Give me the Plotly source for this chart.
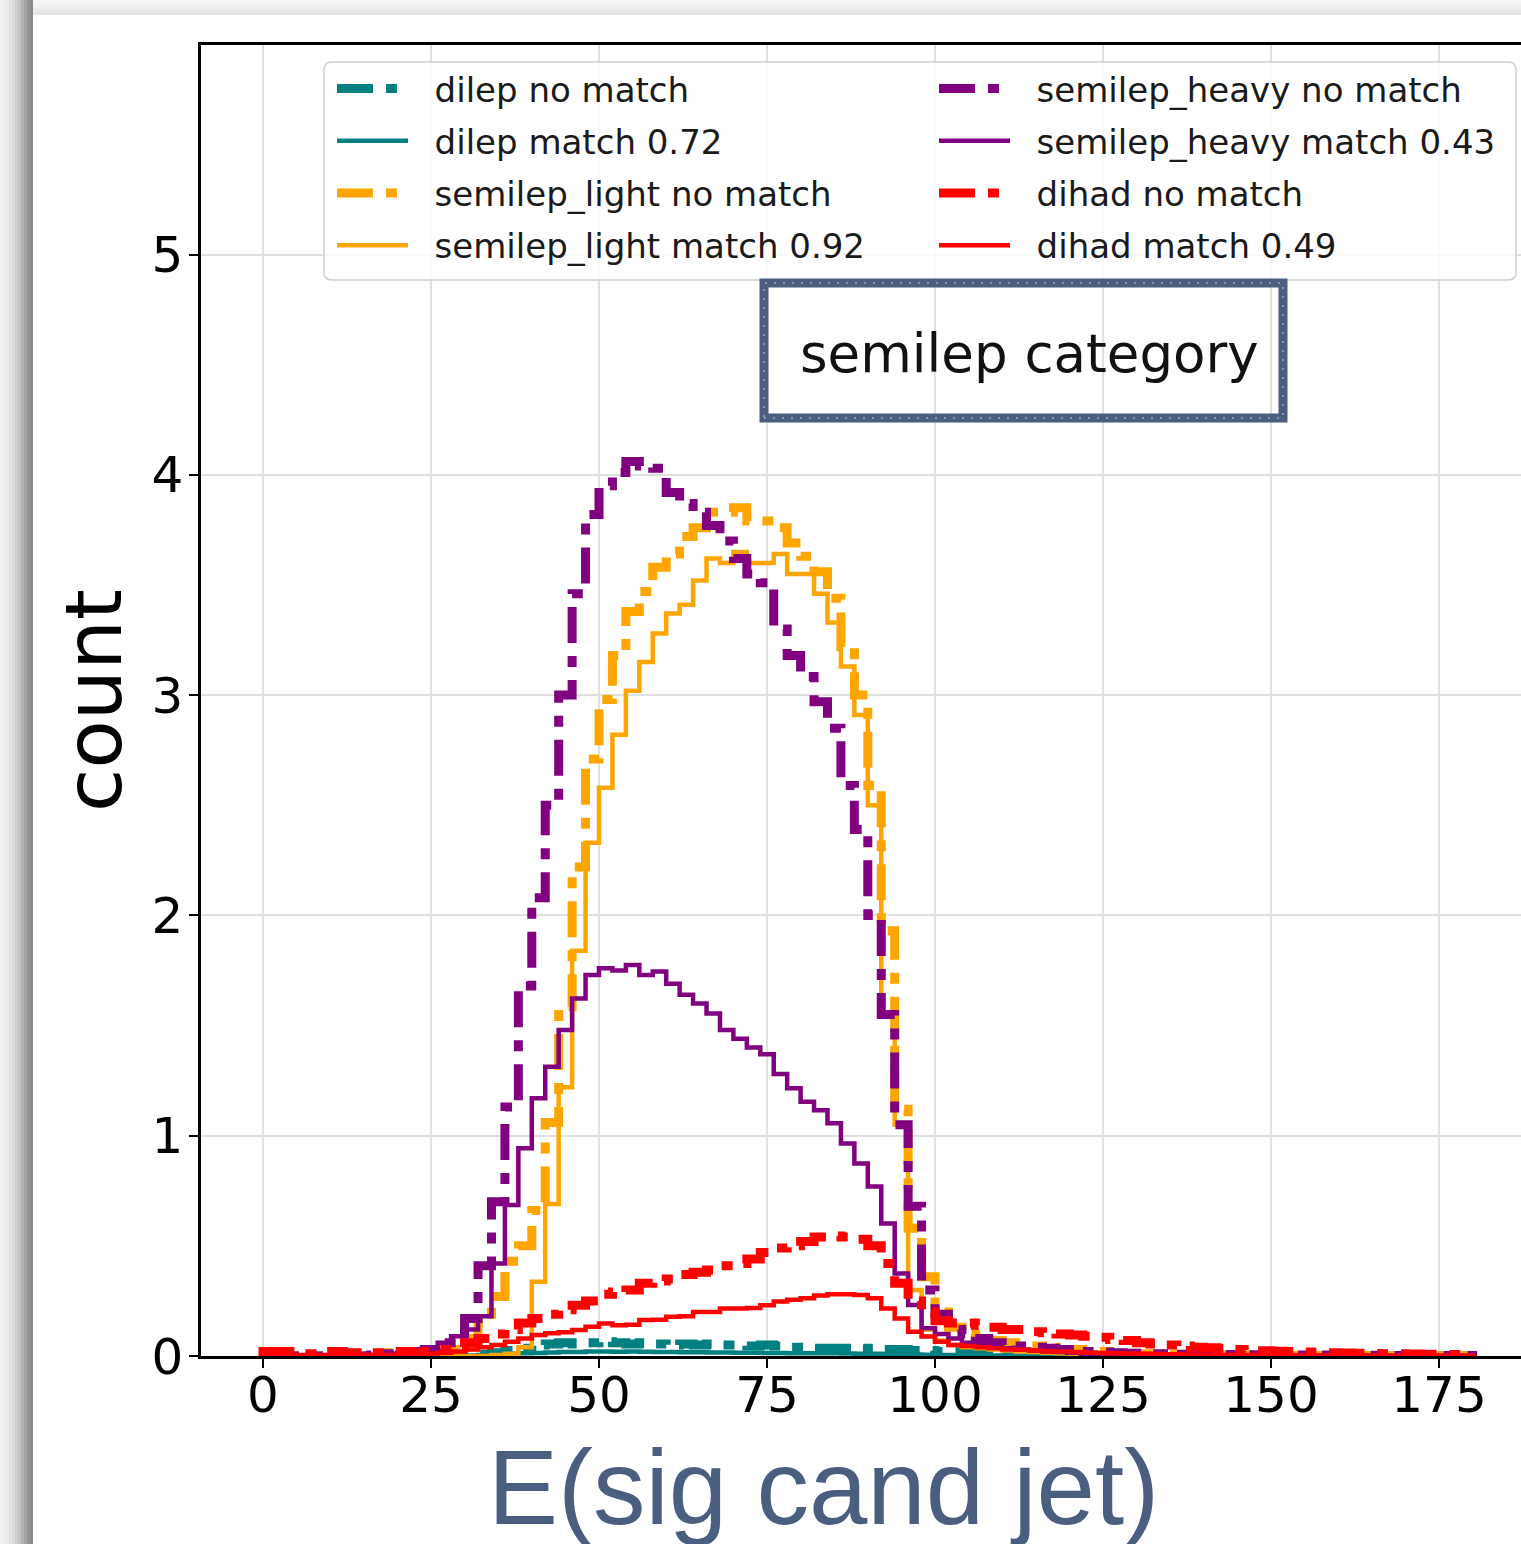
import plotly.graph_objects as go

# ---------------- data (histogram counts, bin width 2, edges 0..180) ----------------
BIN_EDGES = list(range(0, 182, 2))

DILEP_NOMATCH = [
    0, 0, 0, 0, 0, 0, 0, 0, 0, 0,
    0, 0, 0, 0, 0, 0.003, 0.008, 0.015, 0.025, 0.035,
    0.05, 0.055, 0.06, 0.055, 0.06, 0.065, 0.06, 0.055, 0.06, 0.055,
    0.05, 0.055, 0.05, 0.055, 0.05, 0.05, 0.045, 0.05, 0.045, 0.04,
    0.04, 0.035, 0.035, 0.035, 0.03, 0.035, 0.03, 0.03, 0.025, 0.025,
    0.02, 0.02, 0.015, 0.015, 0.01, 0.01, 0.008, 0.006, 0.005, 0.004,
    0.003, 0.003, 0.002, 0.002, 0.001, 0.001, 0.001, 0, 0, 0,
    0, 0, 0, 0, 0, 0, 0, 0, 0, 0,
    0, 0, 0, 0, 0, 0, 0, 0, 0, 0,
]
DILEP_MATCH = [
    0, 0, 0, 0, 0, 0, 0, 0, 0, 0,
    0, 0, 0, 0, 0, 0.002, 0.005, 0.008, 0.01, 0.012,
    0.014, 0.016, 0.018, 0.018, 0.02, 0.02, 0.019, 0.02, 0.019, 0.018,
    0.018, 0.017, 0.017, 0.016, 0.016, 0.015, 0.015, 0.014, 0.014, 0.013,
    0.013, 0.012, 0.012, 0.011, 0.01, 0.01, 0.009, 0.008, 0.007, 0.006,
    0.005, 0.004, 0.003, 0.003, 0.002, 0.002, 0.001, 0.001, 0, 0,
    0, 0, 0, 0, 0, 0, 0, 0, 0, 0,
    0, 0, 0, 0, 0, 0, 0, 0, 0, 0,
    0, 0, 0, 0, 0, 0, 0, 0, 0, 0,
]
SEMILEP_LIGHT_NOMATCH = [
    0, 0, 0, 0, 0, 0, 0, 0, 0.01, 0.015,
    0.015, 0.01, 0.01, 0.015, 0.03, 0.08, 0.15, 0.27, 0.43, 0.5,
    0.66, 1.06, 1.585, 2.22, 2.71, 2.98, 3.18, 3.38, 3.47, 3.58,
    3.64, 3.72, 3.76, 3.83, 3.83, 3.85, 3.79, 3.79, 3.76, 3.69,
    3.63, 3.56, 3.44, 3.22, 3.0, 2.59, 1.93, 1.12, 0.58, 0.36,
    0.2, 0.13, 0.1, 0.09, 0.07, 0.06, 0.05, 0.045, 0.04, 0.03,
    0.03, 0.02, 0.02, 0.015, 0.012, 0.01, 0.009, 0.008, 0.007, 0.006,
    0.005, 0.005, 0.004, 0.004, 0.003, 0.003, 0.003, 0.002, 0.002, 0.002,
    0.002, 0.002, 0.001, 0.001, 0.001, 0.001, 0.001, 0.001, 0.001, 0.001,
]
SEMILEP_LIGHT_MATCH = [
    0, 0, 0, 0, 0, 0, 0, 0, 0, 0,
    0, 0, 0, 0, 0, 0, 0, 0.005, 0.01, 0.04,
    0.337, 0.69, 1.22, 1.84, 2.33, 2.58, 2.82, 3.02, 3.15, 3.28,
    3.37, 3.41, 3.52, 3.62, 3.60, 3.65, 3.60, 3.60, 3.64, 3.55,
    3.55, 3.46, 3.33, 3.13, 2.91, 2.5, 1.55, 1.05, 0.3, 0.12,
    0.07, 0.05, 0.04, 0.035, 0.03, 0.025, 0.02, 0.018, 0.015, 0.012,
    0.01, 0.008, 0.007, 0.006, 0.005, 0.004, 0.003, 0.003, 0.002, 0.002,
    0.001, 0.001, 0.001, 0.001, 0.001, 0, 0, 0, 0, 0,
    0, 0, 0, 0, 0, 0, 0, 0, 0, 0,
]
SEMILEP_HEAVY_NOMATCH = [
    0, 0, 0, 0, 0, 0, 0, 0, 0.005, 0.01,
    0.02, 0.02, 0.03, 0.06, 0.1, 0.17, 0.41, 0.7, 1.13, 1.68,
    2.08, 2.5, 3.0, 3.46, 3.82, 3.95, 4.01, 4.06, 4.04, 4.03,
    3.92, 3.87, 3.83, 3.77, 3.70, 3.62, 3.55, 3.51, 3.30, 3.18,
    3.085, 2.97, 2.85, 2.59, 2.39, 2.0, 1.55, 1.05, 0.68, 0.3,
    0.19, 0.12, 0.1, 0.08, 0.06, 0.05, 0.045, 0.04, 0.035, 0.03,
    0.025, 0.02, 0.018, 0.015, 0.012, 0.01, 0.01, 0.009, 0.008, 0.008,
    0.007, 0.007, 0.006, 0.006, 0.005, 0.005, 0.005, 0.004, 0.004, 0.004,
    0.003, 0.003, 0.003, 0.003, 0.002, 0.002, 0.002, 0.002, 0.002, 0.002,
]
SEMILEP_HEAVY_MATCH = [
    0, 0, 0, 0, 0, 0, 0, 0, 0.005, 0.01,
    0.015, 0.02, 0.025, 0.06, 0.09, 0.12, 0.18, 0.42, 0.685, 0.943,
    1.17, 1.313, 1.48, 1.623, 1.73, 1.76, 1.75, 1.775, 1.73, 1.745,
    1.69, 1.64, 1.60, 1.555, 1.48, 1.44, 1.40, 1.37, 1.28, 1.215,
    1.154, 1.116, 1.056, 0.965, 0.874, 0.769, 0.602, 0.375, 0.231, 0.126,
    0.1, 0.08, 0.06, 0.05, 0.04, 0.035, 0.03, 0.025, 0.02, 0.018,
    0.015, 0.012, 0.01, 0.009, 0.008, 0.007, 0.006, 0.005, 0.005, 0.004,
    0.004, 0.003, 0.003, 0.003, 0.002, 0.002, 0.002, 0.002, 0.001, 0.001,
    0.001, 0.001, 0.001, 0.001, 0.001, 0.001, 0.001, 0.001, 0.001, 0.001,
]
DIHAD_NOMATCH = [
    0.02, 0.02, 0.015, 0.01, 0.02, 0.02, 0.015, 0.01, 0.015, 0.02,
    0.02, 0.015, 0.02, 0.03, 0.04, 0.06, 0.08, 0.1, 0.12, 0.15,
    0.17, 0.19, 0.21, 0.23, 0.25, 0.28, 0.29, 0.3, 0.33, 0.34,
    0.35, 0.37, 0.38, 0.39, 0.41, 0.42, 0.44, 0.47, 0.49, 0.50,
    0.52, 0.54, 0.545, 0.54, 0.53, 0.50, 0.42, 0.33, 0.25, 0.2,
    0.16, 0.15, 0.15, 0.14, 0.13, 0.12, 0.12, 0.11, 0.105, 0.1,
    0.095, 0.09, 0.085, 0.075, 0.07, 0.06, 0.055, 0.05, 0.045, 0.04,
    0.037, 0.034, 0.03, 0.027, 0.024, 0.022, 0.02, 0.018, 0.016, 0.015,
    0.014, 0.012, 0.011, 0.01, 0.01, 0.009, 0.008, 0.008, 0.007, 0.007,
]
DIHAD_MATCH = [
    0.005, 0.005, 0.005, 0.005, 0.005, 0.005, 0.005, 0.005, 0.005, 0.005,
    0.005, 0.008, 0.01, 0.015, 0.02, 0.03, 0.04, 0.05, 0.065, 0.08,
    0.095, 0.103, 0.108, 0.118, 0.133, 0.148, 0.14, 0.142, 0.163, 0.165,
    0.178, 0.18, 0.2, 0.2, 0.216, 0.216, 0.218, 0.23, 0.247, 0.255,
    0.262, 0.275, 0.28, 0.28, 0.277, 0.262, 0.216, 0.17, 0.11, 0.088,
    0.065, 0.05, 0.045, 0.04, 0.035, 0.03, 0.028, 0.025, 0.022, 0.02,
    0.018, 0.016, 0.014, 0.012, 0.011, 0.01, 0.009, 0.008, 0.007, 0.006,
    0.005, 0.005, 0.004, 0.004, 0.003, 0.003, 0.003, 0.002, 0.002, 0.002,
    0.002, 0.002, 0.001, 0.001, 0.001, 0.001, 0.001, 0.001, 0.001, 0.001,
]

SERIES_NAMES = [
    "dilep no match", "dilep match 0.72",
    "semilep_light no match", "semilep_light match 0.92",
    "semilep_heavy no match", "semilep_heavy match 0.43",
    "dihad no match", "dihad match 0.49",
]
SERIES_VALUES = [
    DILEP_NOMATCH, DILEP_MATCH,
    SEMILEP_LIGHT_NOMATCH, SEMILEP_LIGHT_MATCH,
    SEMILEP_HEAVY_NOMATCH, SEMILEP_HEAVY_MATCH,
    DIHAD_NOMATCH, DIHAD_MATCH,
]
SERIES_COLORS = ["#008080", "#008080", "#FFA500", "#FFA500",
                 "#800080", "#800080", "#FF0000", "#FF0000"]
SERIES_DASHED = [True, False, True, False, True, False, True, False]

X_TICKS = [0, 25, 50, 75, 100, 125, 150, 175]
Y_TICKS = [0, 1, 2, 3, 4, 5]

# ---------------- geometry ----------------
W, H = 1521, 1544
ML, MR, MT, MB = 201, 0, 45, 188
PW = W - ML - MR
PH = H - MT - MB
X_RANGE = [-9.226, 187.2]
Y_RANGE = [0, 5.951]
SLATE = "#4a5f80"
NBSP = "\u00a0"


def pxx(px):
    return (px - ML) / PW


def pxy(py):
    return (H - MB - py) / PH


def step_xy(counts):
    xs = [BIN_EDGES[0]] + BIN_EDGES[:-1] + [BIN_EDGES[-1], BIN_EDGES[-1]]
    ys = [0] + list(counts) + [counts[-1], 0]
    return xs, ys


fig = go.Figure()
for i, (name, vals, col, dashed) in enumerate(
        zip(SERIES_NAMES, SERIES_VALUES, SERIES_COLORS, SERIES_DASHED)):
    xs, ys = step_xy(vals)
    fig.add_trace(go.Scatter(
        x=xs, y=ys, mode="lines", name=NBSP * 2 + name,
        line=dict(color=col, width=9 if dashed else 4.5, shape="hv",
                  dash="36px,13px,11px,13px" if dashed else "solid"),
        legend="legend" if i < 4 else "legend2",
        legendgroup=f"g{i}",
        hoverinfo="skip",
    ))

shapes = []
# drop shadow of the screenshot card (left and top)
left_cols = ["#f3f3f3", "#efefef", "#eaeaea", "#e3e3e3", "#dadada", "#cfcfcf",
             "#c2c2c2", "#b3b3b3", "#a3a3a3", "#959595", "#8a8a8a"]
for k, c in enumerate(left_cols):
    shapes.append(dict(type="rect", xref="paper", yref="paper",
                       x0=pxx(k * 3), x1=pxx(k * 3 + 3), y0=pxy(H), y1=pxy(0),
                       fillcolor=c, line=dict(width=0), layer="above"))
top_rows = ["#f5f5f5", "#f2f2f2", "#eeeeee", "#e9e9e9", "#e4e4e4"]
for k, c in enumerate(top_rows):
    shapes.append(dict(type="rect", xref="paper", yref="paper",
                       x0=pxx(33), x1=pxx(W), y0=pxy(k * 3 + 3), y1=pxy(k * 3),
                       fillcolor=c, line=dict(width=0), layer="above"))

# legend frame (rounded)
lx0, lx1, ly0, ly1, r = 324, 1516, 62, 280, 8
path = (f"M {pxx(lx0 + r)},{pxy(ly0)} L {pxx(lx1 - r)},{pxy(ly0)} "
        f"Q {pxx(lx1)},{pxy(ly0)} {pxx(lx1)},{pxy(ly0 + r)} "
        f"L {pxx(lx1)},{pxy(ly1 - r)} Q {pxx(lx1)},{pxy(ly1)} {pxx(lx1 - r)},{pxy(ly1)} "
        f"L {pxx(lx0 + r)},{pxy(ly1)} Q {pxx(lx0)},{pxy(ly1)} {pxx(lx0)},{pxy(ly1 - r)} "
        f"L {pxx(lx0)},{pxy(ly0 + r)} Q {pxx(lx0)},{pxy(ly0)} {pxx(lx0 + r)},{pxy(ly0)} Z")
shapes.append(dict(type="path", xref="paper", yref="paper", path=path,
                   fillcolor="rgba(255,255,255,0.8)",
                   line=dict(color="#d0d0d0", width=1.5), layer="above"))

# "semilep category" frame (rough hand-drawn look: solid + speckled overlay)
shapes.append(dict(type="rect", xref="paper", yref="paper",
                   x0=pxx(764), x1=pxx(1283), y0=pxy(418), y1=pxy(283),
                   line=dict(color=SLATE, width=9), layer="above"))
shapes.append(dict(type="rect", xref="paper", yref="paper",
                   x0=pxx(764), x1=pxx(1283), y0=pxy(418), y1=pxy(283),
                   line=dict(color="rgba(255,255,255,0.35)", width=2, dash="2px,7px"),
                   layer="above"))

annotations = [
    dict(text="semilep category", xref="paper", yref="paper",
         x=pxx(1029), y=pxy(353), xanchor="center", yanchor="middle",
         showarrow=False, font=dict(family="DejaVu Sans", size=53, color="#111111")),
    dict(text="E(sig cand jet)", xref="paper", yref="paper",
         x=pxx(823), y=pxy(1487), xanchor="center", yanchor="middle",
         showarrow=False, font=dict(family="Liberation Sans", size=105, color=SLATE)),
]

legend_common = dict(
    xanchor="left", yanchor="top", bgcolor="rgba(0,0,0,0)", borderwidth=0,
    font=dict(family="DejaVu Sans", size=34, color="#1a1a1a"),
    traceorder="grouped", tracegroupgap=5, itemwidth=71,
)

fig.update_layout(
    width=W, height=H,
    margin=dict(l=ML, r=MR, t=MT, b=MB, autoexpand=False),
    paper_bgcolor="white", plot_bgcolor="white",
    showlegend=True,
    legend=dict(x=pxx(332), y=pxy(60), **legend_common),
    legend2=dict(x=pxx(934), y=pxy(60), **legend_common),
    shapes=shapes, annotations=annotations,
    xaxis=dict(range=X_RANGE, tickvals=X_TICKS, ticktext=[str(v) for v in X_TICKS],
               ticks="outside", ticklen=9, tickwidth=2, tickcolor="black",
               ticklabelstandoff=-16,
               showline=True, linecolor="black", linewidth=2.5, mirror=True,
               showgrid=True, gridcolor="#e0e0e0", gridwidth=1.5, zeroline=False,
               tickfont=dict(family="DejaVu Sans", size=50, color="black")),
    yaxis=dict(range=Y_RANGE, tickvals=Y_TICKS, ticktext=[str(v) for v in Y_TICKS],
               ticks="outside", ticklen=9, tickwidth=2, tickcolor="black",
               ticklabelstandoff=-4,
               showline=True, linecolor="black", linewidth=2.5, mirror=False,
               showgrid=True, gridcolor="#e0e0e0", gridwidth=1.5, zeroline=False,
               tickfont=dict(family="DejaVu Sans", size=50, color="black"),
               title=dict(text="count", standoff=4,
                          font=dict(family="DejaVu Sans", size=79, color="black"))),
)

fig.write_html("out.html")
